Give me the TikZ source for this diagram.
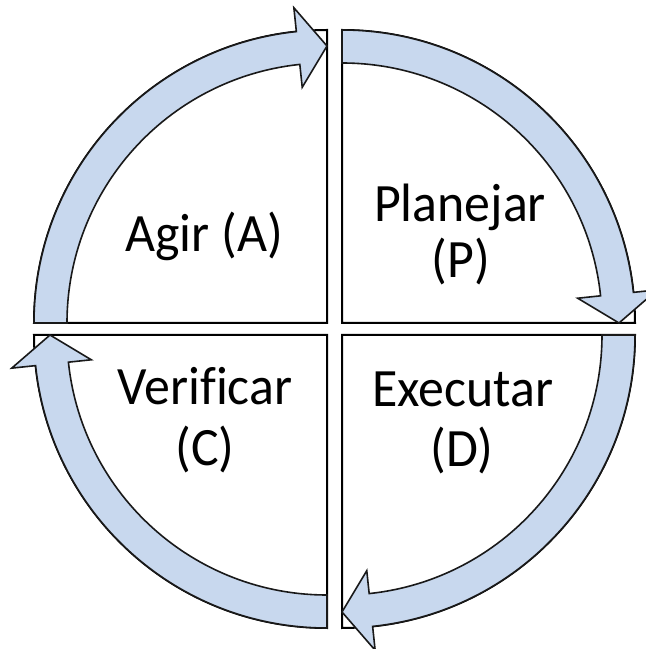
\documentclass[tikz,border=0pt]{standalone}
\usepackage{fontspec}
\setmainfont{Carlito}[Ligatures=NoCommon]
\usetikzlibrary{calc}
\newcommand{\pdRo}{293pt}
\newcommand{\pdRi}{260pt}
\newcommand{\pdRm}{277pt}
\newcommand{\pdRh}{317pt}
\newcommand{\pdRl}{237pt}
\definecolor{arrowfill}{RGB}{200,216,238}
\tikzset{
  sector/.style={draw=black, line width=2pt, fill=white, line join=miter},
  cyclearrow/.style={draw=black!90, line width=1.6pt, fill=arrowfill, line join=miter},
  label/.style={font=\fontsize{54}{60}\selectfont, anchor=base, inner sep=0pt, xscale=0.96, transform shape}
}
\newcommand{\cycarrow}[3]{%
  \path[cyclearrow] ($(#1)+(#2:\pdRo)$)
    arc[start angle=#2, end angle=#3+6, radius=\pdRo]
    -- ($(#1)+(#3+6:\pdRh)$) -- ($(#1)+(#3:\pdRm)$) -- ($(#1)+(#3+6:\pdRl)$)
    -- ($(#1)+(#3+6:\pdRi)$)
    arc[start angle=#3+6, end angle=#2, radius=\pdRi] -- cycle;}
\begin{document}
\begin{tikzpicture}
\clip (0,0) rectangle (646pt,649pt);
\fill[white] (0,0) rectangle (646pt,649pt);
\coordinate (cTL) at (327pt,326pt);
\coordinate (cTR) at (342pt,326pt);
\coordinate (cBL) at (327pt,314pt);
\coordinate (cBR) at (342pt,314pt);
% sectors
\draw[sector] (cTL) -- ++(180:\pdRo) arc[start angle=180, end angle=90, radius=\pdRo] -- cycle;
\draw[sector] (cTR) -- ++(90:\pdRo) arc[start angle=90, end angle=0, radius=\pdRo] -- cycle;
\draw[sector] (cBR) -- ++(0:\pdRo) arc[start angle=0, end angle=-90, radius=\pdRo] -- cycle;
\draw[sector] (cBL) -- ++(270:\pdRo) arc[start angle=270, end angle=180, radius=\pdRo] -- cycle;
% arrows
\cycarrow{cTL}{180}{90}
\cycarrow{cTR}{90}{0}
\cycarrow{cBR}{0}{-90}
\cycarrow{cBL}{270}{180}
% labels
\node[label] (agir) at (204pt,397pt) {Agir (A)};
\node[label] (plan1) at (460pt,427pt) {Planejar};
\node[label] (plan2) at (461pt,371pt) {(P)};
\node[label] (ver1) at (205pt,244pt) {Verificar};
\node[label] (ver2) at (205pt,183pt) {(C)};
\node[label] (exe1) at (463pt,242pt) {Executar};
\node[label] (exe2) at (462pt,182pt) {(D)};
\end{tikzpicture}
\end{document}
